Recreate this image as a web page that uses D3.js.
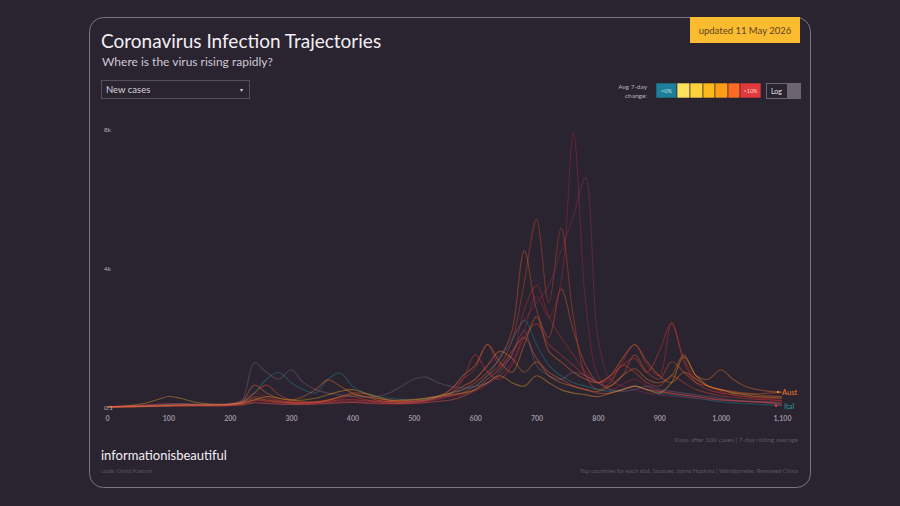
<!DOCTYPE html>
<html>
<head>
<meta charset="utf-8">
<script src="https://cdn.jsdelivr.net/npm/d3@7"></script>
<style>
  body { margin: 0; background: #2a2330; }
  svg { display: block; font-family: Lato, "Noto Sans", sans-serif; }
</style>
</head>
<body>
<script>
// days after 100 cases, every 20 days
var days = d3.range(0, 1101, 20);

// 7-day rolling average of new cases
var s1 = [20,30,40,60,60,50,40,40,50,70, 100,180,400,300,200,150,120,110,130,150, 140,110,90,80,80,100,140,220,300,350, 450,650,900,1300,2200,3200,2600,3600,7900,3000, 900,500,650,800,600,450,380,330,300,260, 220,190,160,140,130,120];
var s2 = [10,20,30,50,80,100,90,70,60,60, 80,150,300,250,180,140,130,150,200,260, 300,220,150,120,110,130,180,260,320,420, 600,900,1200,1900,3600,5400,3000,5150,2600,900, 500,700,1200,1000,700,600,900,700,500,400, 320,280,250,220,200,190];
var s3 = [0,10,20,30,40,60,80,60,50,40, 60,120,400,630,350,200,160,140,180,300, 400,380,250,180,150,160,200,300,400,500, 700,1000,1400,2200,4500,2800,2000,3400,2200,1200, 700,600,900,1500,1000,800,1300,1000,700,600, 500,450,400,380,400,420];
var s4 = [0,0,10,20,30,40,50,50,40,40, 50,80,200,160,120,100,100,120,160,200, 220,200,180,160,150,170,220,300,500,800, 1100,1800,1200,1500,2800,3500,2600,2000,1500,1000, 700,800,1300,1800,1200,900,2400,1400,800,600, 450,350,300,250,220,180];
var s5 = [0,0,0,10,20,30,40,50,50,60, 80,120,250,200,150,120,110,130,200,300, 350,300,200,150,130,150,200,300,500,900, 1200,1800,1300,1000,1800,2600,1600,1300,1000,800, 700,900,1400,1800,1300,900,700,1000,800,600, 500,420,380,350,320,300];
var s6 = [0,10,20,30,40,60,80,80,70,60, 80,150,400,800,1000,700,500,400,800,980, 600,400,300,250,220,200,220,300,400,500, 600,900,1400,1900,2500,1800,1200,900,700,600, 500,450,500,600,500,400,350,300,250,200, 150,120,100,80,60,40];
var s7 = [0,10,20,40,60,80,100,90,80,70, 90,200,1270,1000,800,1070,700,500,400,350, 300,280,300,400,600,800,860,700,600,550, 600,700,1000,1500,2200,1200,900,800,1000,900, 700,500,450,500,600,500,450,400,350,300, 250,200,180,160,140,120];
var s8 = [0,0,10,20,30,40,50,60,60,70, 80,150,630,400,250,200,300,500,780,600, 400,300,250,200,200,220,260,320,400,600, 800,1200,1600,1400,1000,1300,900,700,600,500, 450,600,900,1100,800,700,900,1500,900,800, 1070,800,600,500,450,430];
var s9 = [0,20,50,100,200,300,250,150,100,80, 80,100,200,300,250,200,200,250,350,450, 500,400,300,200,180,200,250,300,350,400, 500,700,900,700,600,900,700,500,400,350, 300,400,500,600,500,400,700,1440,900,600, 500,400,350,300,280,260];
var s10 = [0,10,20,30,40,50,60,70,60,50, 60,100,200,180,140,120,120,130,160,200, 200,180,160,150,150,160,180,250,400,800, 1500,1000,800,1200,2000,2400,1800,1500,1200,900, 700,900,1200,1400,1000,1600,2420,1300,700,500, 400,350,300,280,260,250];
var s11 = [0,0,10,20,30,40,50,50,50,50, 60,80,150,120,100,90,90,100,120,150, 160,150,140,130,130,150,180,250,350,500, 800,1200,1500,2000,2500,3000,3500,4500,5500,6600, 2000,800,600,500,400,350,300,280,250,220, 200,180,160,150,140,130];
var s12 = [0,5,10,15,20,25,30,30,30,30, 40,60,120,100,80,70,70,80,100,120, 130,120,110,100,100,110,130,160,200,300, 500,800,1100,1600,2000,1400,1000,800,600,500, 400,400,500,600,500,450,400,350,300,250, 200,180,160,140,120,60];

var seriesList = [s1, s2, s3, s4, s5, s6, s7, s9, s10, s11, s12, s8];
var seriesColors = ["#b3263f", "#e0452c", "#e85a2a", "#c9302c", "#ec7a2a", "#1f8a96",
                    "#7a6682", "#f2a52a", "#e23b3b", "#8c3458", "#f0604a", "#f07a2a"];

var xTicks = [0, 100, 200, 300, 400, 500, 600, 700, 800, 900, 1000, 1100];
var yTicks = [0.1, 4000, 8000];
var legendColors = ["#1d7f9b", "#fde25e", "#ffd23c", "#ffb819", "#ff9d16", "#ff6a25", "#e2393a"];

var width = 900, height = 506;

var svg = d3.select("body").append("svg")
    .attr("width", width)
    .attr("height", height);

// card
svg.append("rect")
    .attr("x", 89.5).attr("y", 17.5)
    .attr("width", 721).attr("height", 470)
    .attr("rx", 14)
    .attr("fill", "#2a2330")
    .attr("stroke", "#7d7682");

// updated badge
svg.append("rect")
    .attr("x", 690).attr("y", 17)
    .attr("width", 110).attr("height", 26)
    .attr("fill", "#fbbc2f");
svg.append("text")
    .attr("x", 745).attr("y", 34)
    .attr("text-anchor", "middle")
    .attr("font-size", 9.5)
    .attr("fill", "#5b4320")
    .text("updated 11 May 2026");

// titles
svg.append("text")
    .attr("x", 101).attr("y", 48)
    .attr("font-size", 19)
    .attr("fill", "#f2eff4")
    .text("Coronavirus Infection Trajectories");
svg.append("text")
    .attr("x", 102).attr("y", 66)
    .attr("font-size", 12)
    .attr("fill", "#cfc9d3")
    .text("Where is the virus rising rapidly?");

// dropdown
svg.append("rect")
    .attr("x", 101.5).attr("y", 80.5)
    .attr("width", 148).attr("height", 18)
    .attr("fill", "#2a2330")
    .attr("stroke", "#57505c");
svg.append("text")
    .attr("x", 106).attr("y", 93)
    .attr("font-size", 9.5)
    .attr("fill", "#d8d3dc")
    .text("New cases");
svg.append("text")
    .attr("x", 240).attr("y", 92)
    .attr("font-size", 6)
    .attr("fill", "#d8d3dc")
    .text("▾");

// legend
svg.append("text").attr("x", 647).attr("y", 89)
    .attr("text-anchor", "end").attr("font-size", 6.5).attr("fill", "#b9b2bd")
    .text("Avg 7-day");
svg.append("text").attr("x", 647).attr("y", 98)
    .attr("text-anchor", "end").attr("font-size", 6.5).attr("fill", "#b9b2bd")
    .text("change:");

var boxX = [656, 677, 690, 703, 715, 728, 740];
var boxW = [21, 13, 13, 12, 13, 12, 21];
svg.selectAll("rect.leg")
    .data(legendColors)
    .enter().append("rect")
    .attr("class", "leg")
    .attr("x", function (d, i) { return boxX[i]; })
    .attr("y", 83)
    .attr("width", function (d, i) { return boxW[i]; })
    .attr("height", 15)
    .attr("fill", function (d) { return d; })
    .attr("stroke", "#2a2330")
    .attr("stroke-width", 0.6);
svg.append("text").attr("x", 666.5).attr("y", 93)
    .attr("text-anchor", "middle").attr("font-size", 5.5).attr("fill", "#cfe7ee").text("<0%");
svg.append("text").attr("x", 750.5).attr("y", 93)
    .attr("text-anchor", "middle").attr("font-size", 5.5).attr("fill", "#ffd7d7").text(">10%");

// log toggle
svg.append("rect")
    .attr("x", 766.5).attr("y", 83.5)
    .attr("width", 34).attr("height", 15)
    .attr("fill", "#2a2330").attr("stroke", "#6e6773");
svg.append("rect")
    .attr("x", 787).attr("y", 84)
    .attr("width", 13.5).attr("height", 14)
    .attr("fill", "#6c6571");
svg.append("text").attr("x", 776.5).attr("y", 94)
    .attr("text-anchor", "middle").attr("font-size", 7).attr("fill", "#e6e1e9").text("Log");

// scales
var xScale = d3.scaleLinear()
    .domain([0, 1100])
    .range([107, 782]);

var yScale = d3.scaleLinear()
    .domain([0, 8000])
    .range([407, 129]);

var line = d3.line()
    .x(function (d, i) { return xScale(days[i]); })
    .y(function (d) { return yScale(d); })
    .curve(d3.curveCatmullRom.alpha(0.5));

var chartGroup = svg.append("g");

chartGroup.selectAll("path.trail")
    .data(seriesList)
    .enter().append("path")
    .attr("class", "trail")
    .attr("d", line)
    .attr("fill", "none")
    .attr("stroke", function (d, i) { return seriesColors[i]; })
    .attr("stroke-width", 1.1)
    .attr("stroke-opacity", 0.42);

// x axis (labels only)
var xAxis = d3.axisBottom(xScale)
    .tickValues(xTicks)
    .tickSize(0)
    .tickPadding(0)
    .tickFormat(d3.format(","));

var xg = chartGroup.append("g")
    .attr("transform", "translate(0,416)")
    .call(xAxis);
xg.select(".domain").remove();
xg.selectAll("text")
    .attr("font-size", 7)
    .attr("font-weight", "bold")
    .attr("fill", "#9a93a0")
    .attr("font-family", "Lato, sans-serif");

// y axis (labels only)
var yAxis = d3.axisRight(yScale)
    .tickValues(yTicks)
    .tickSize(0)
    .tickPadding(0)
    .tickFormat(function (d) { return d < 1 ? "0.1" : (d / 1000) + "k"; });

var yg = chartGroup.append("g")
    .attr("transform", "translate(104,0)")
    .call(yAxis);
yg.select(".domain").remove();
yg.selectAll("text")
    .attr("font-size", 6.5)
    .attr("fill", "#b3acb8")
    .attr("font-family", "Lato, sans-serif");

// end labels
var last = days.length - 1;
chartGroup.append("circle")
    .attr("cx", xScale(days[last]) - 4).attr("cy", yScale(s8[last]))
    .attr("r", 1.3).attr("fill", "#f07a2a");
chartGroup.append("text")
    .attr("x", xScale(days[last]) + 0).attr("y", yScale(s8[last]) + 3)
    .attr("font-size", 7.5).attr("fill", "#f07a2a")
    .text("Aust");
chartGroup.append("circle")
    .attr("cx", xScale(days[last]) - 6).attr("cy", yScale(s6[last]))
    .attr("r", 1.3).attr("fill", "#e23b3b");
chartGroup.append("text")
    .attr("x", xScale(days[last]) + 2).attr("y", yScale(s6[last]) + 3)
    .attr("font-size", 7.5).attr("fill", "#2a9aa0")
    .text("Ital");

// footer
svg.append("text")
    .attr("x", 798).attr("y", 442)
    .attr("text-anchor", "end").attr("font-size", 6.5).attr("fill", "#5e5763")
    .text("Days after 100 cases | 7-day rolling average");
svg.append("text")
    .attr("x", 101).attr("y", 460)
    .attr("font-size", 13).attr("fill", "#f2eff4")
    .text("informationisbeautiful");
svg.append("text")
    .attr("x", 101).attr("y", 473)
    .attr("font-size", 6).attr("fill", "#5e5763")
    .text("code: Omid Kashan");
svg.append("text")
    .attr("x", 798).attr("y", 473)
    .attr("text-anchor", "end").attr("font-size", 6).attr("fill", "#5e5763")
    .text("Top countries for each stat. Sources: Johns Hopkins | Worldometer. Removed China");
</script>
</body>
</html>
